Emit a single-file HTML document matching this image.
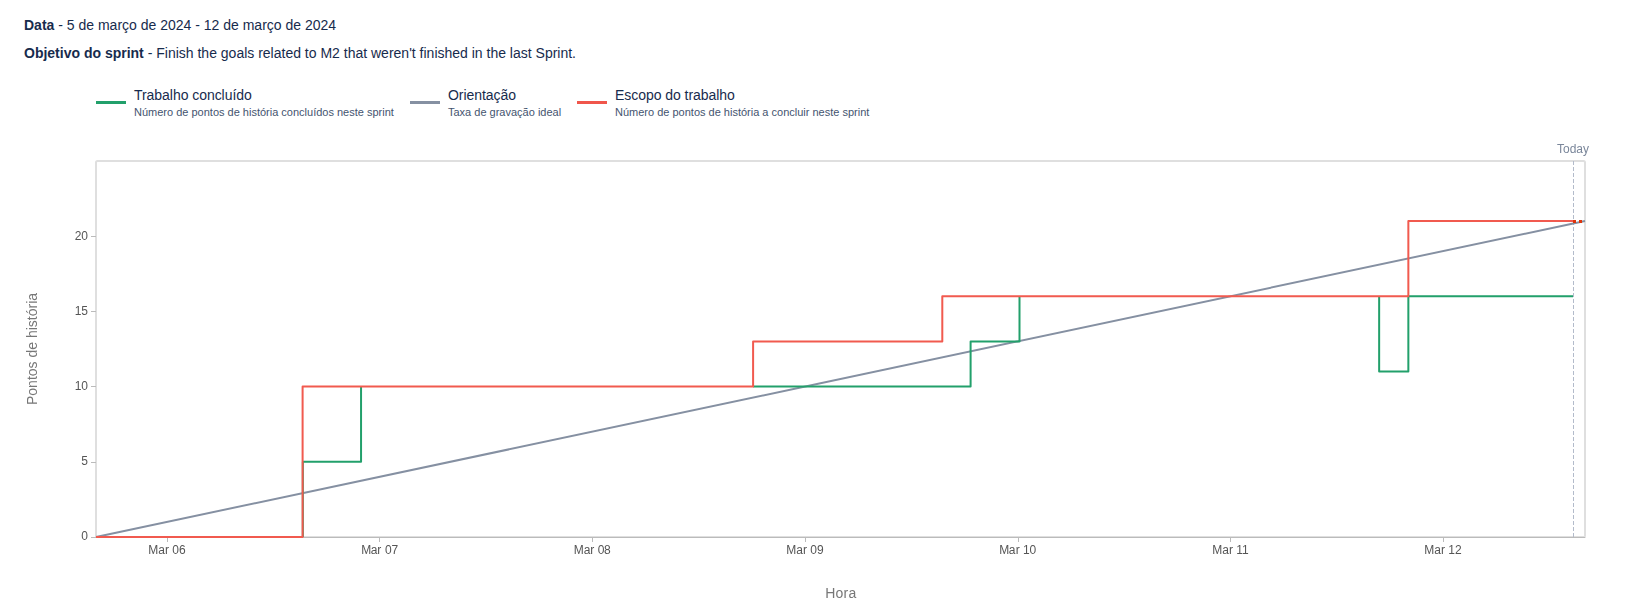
<!DOCTYPE html>
<html><head><meta charset="utf-8">
<style>
html,body{margin:0;padding:0;background:#fff;}
body{width:1651px;height:613px;overflow:hidden;position:relative;font-family:"Liberation Sans",sans-serif;color:#172B4D;}
.l{position:absolute;left:24px;font-size:14px;line-height:20px;white-space:nowrap;}
.lg{position:absolute;top:87px;padding-left:38px;white-space:nowrap;}
.lg i{position:absolute;left:0;top:14px;width:30px;height:3px;}
.lg b{display:block;font-weight:normal;font-size:14px;line-height:16px;color:#172B4D;letter-spacing:-0.045px;}
.lg span{display:block;font-size:11px;line-height:13px;margin-top:3px;color:#44546F;}
svg{position:absolute;left:0;top:0;will-change:transform;}
svg text{font-family:"Liberation Sans",sans-serif;}
</style></head><body>
<div class="l" style="top:15px"><b>Data</b> - 5 de março de 2024 - 12 de março de 2024</div>
<div class="l" style="top:43px"><b>Objetivo do sprint</b> - Finish the goals related to M2 that weren't finished in the last Sprint.</div>
<div class="lg" style="left:96px"><i style="background:#22A06B"></i><b>Trabalho concluído</b><span>Número de pontos de história concluídos neste sprint</span></div>
<div class="lg" style="left:410px"><i style="background:#8590A2"></i><b>Orientação</b><span>Taxa de gravação ideal</span></div>
<div class="lg" style="left:577px"><i style="background:#F0564B"></i><b>Escopo do trabalho</b><span>Número de pontos de história a concluir neste sprint</span></div>
<svg width="1651" height="613" viewBox="0 0 1651 613">
<text x="1589" y="153" font-size="12" fill="#7A869A" text-anchor="end">Today</text>
<!-- frame -->
<rect x="96" y="161" width="1489" height="376" rx="1.5" fill="none" stroke="#dfdfdf" stroke-width="2"/>
<path d="M96 537.5H1585.3" stroke="#bbb" stroke-width="1"/>
<!-- ticks -->
<g stroke="#bbb" stroke-width="1">
<path d="M91 537.5H96M91 462.5H96M91 386.5H96M91 311.5H96M91 236.5H96"/>
<path d="M167.5 538V542M379.5 538V542M592.5 538V542M805.5 538V542M1018.5 538V542M1230.5 538V542M1443.5 538V542"/>
</g>
<g font-size="12" fill="#555" text-anchor="end">
<text x="88" y="540">0</text><text x="88" y="465">5</text><text x="88" y="390">10</text><text x="88" y="315">15</text><text x="88" y="240">20</text>
</g>
<g font-size="12" fill="#555">
<text x="148.33" y="554" >Mar 06</text><text x="361.33" y="554" dx="0 -0.65 -0.15 0 0.47 -0.17">Mar 07</text><text x="573.85" y="554" dx="0 -0.16 -0.16 0 0.17 -0.35">Mar 08</text><text x="786.35" y="554" >Mar 09</text><text x="999.35" y="554" dx="0 -0.65 0.45 0 -0.13 -0.17">Mar 10</text><text x="1212.33" y="554" >Mar 11</text><text x="1424.33" y="554" >Mar 12</text>
</g>
<text x="825.2" y="598" font-size="14" fill="#777" letter-spacing="0.25">Hora</text>
<text transform="translate(37,349) rotate(-90)" font-size="14" fill="#777" text-anchor="middle">Pontos de história</text>
<!-- today -->
<line x1="1573.5" y1="161" x2="1573.5" y2="537" stroke="#B3BBCA" stroke-width="1" stroke-dasharray="4,2"/>
<!-- series -->
<g fill="none" stroke-width="2" stroke-linejoin="round">
<path d="M96 537L1585 221" stroke="#8590A2"/>
<g stroke="#22A06B">
<path d="M302.85 537V461.75H361.05V386.55"/>
<path d="M753.1 386.55H970.6V341.4H1019.5V296.3"/>
<path d="M1379.15 296.3V371.5H1408.35V296.3H1573"/>
</g>
<path d="M96 537H302.6V386.55H753.1V341.4H942.3V296.3H1408.35V221H1573" stroke="#F15A4F"/>
<path d="M1573 221.5H1585" stroke="#DE350B" stroke-width="3" stroke-dasharray="3,3"/>
</g>
</svg>
</body></html>
